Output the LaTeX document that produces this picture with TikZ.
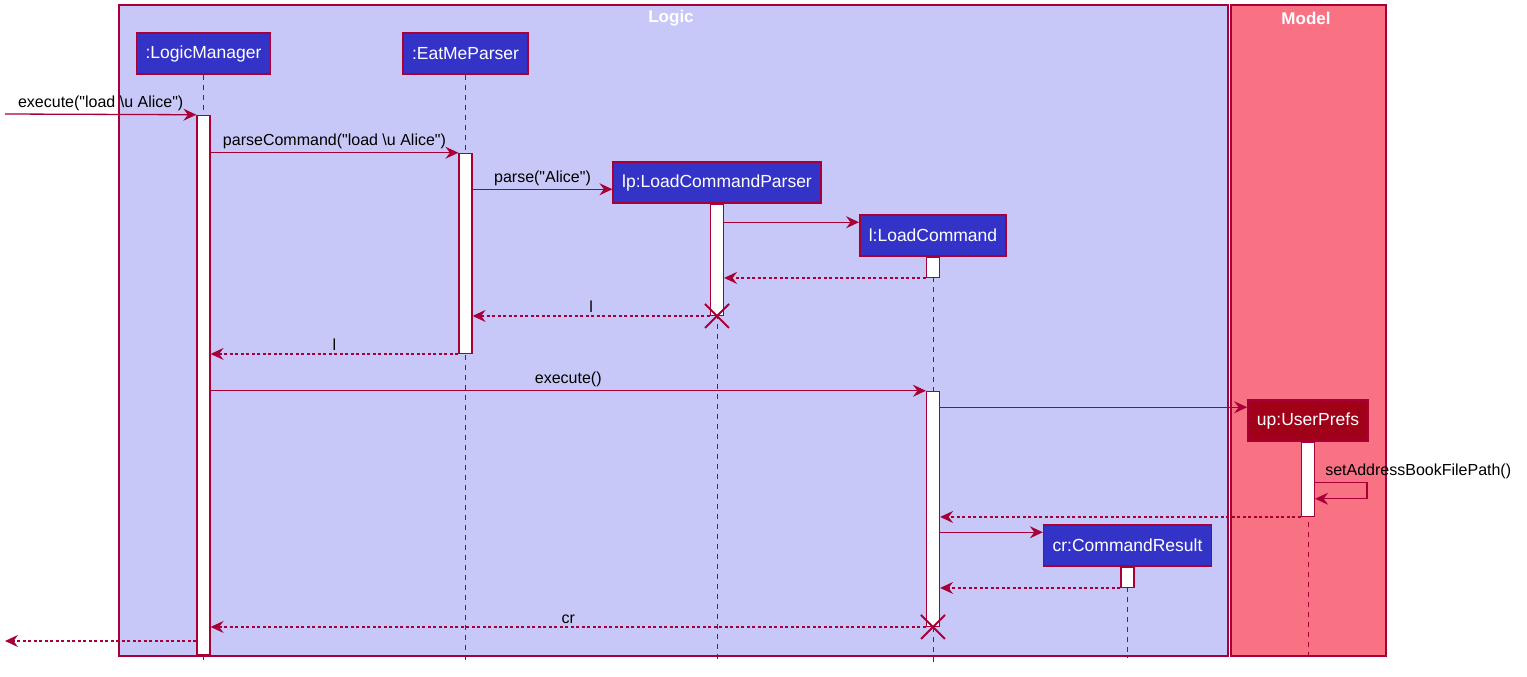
\documentclass[tikz,border=0pt]{standalone}
\usepackage{fontspec}
\setmainfont{Liberation Sans}[Ligatures=TeXOff]
\usetikzlibrary{arrows.meta, shapes.misc}

\definecolor{umlred}{RGB}{168,0,54}
\definecolor{logicbg}{RGB}{200,200,248}
\definecolor{modelbg}{RGB}{248,114,132}
\definecolor{partblue}{RGB}{51,51,200}
\definecolor{partred}{RGB}{160,0,24}

\tikzset{
  frame/.style = {draw=umlred, line width=1.2pt},
  title/.style = {text=white, font=\bfseries\fontsize{17}{19}\selectfont},
  part/.style = {draw=umlred, line width=1.5pt, fill=partblue, text=white,
                 font=\fontsize{17.5}{20}\selectfont, minimum height=41pt, inner xsep=9pt},
  life/.style = {draw=umlred, line width=1pt, dash pattern=on 5pt off 5pt},
  act/.style = {draw=umlred, fill=white, line width=1.2pt, minimum width=13pt,
                inner sep=0pt, anchor=north},
  msg/.style = {draw=umlred, line width=1.3pt, -{Stealth[length=13pt,width=12pt,inset=4.5pt]}},
  ret/.style = {msg, dash pattern=on 3pt off 2.5pt},
  lbl/.style = {font=\fontsize{16}{18}\selectfont, text=black, inner sep=3pt},
  kill/.style = {cross out, draw=umlred, line width=2pt, minimum size=22pt, inner sep=0pt},
}

\begin{document}
\begin{tikzpicture}[x=1pt, y=-1pt]
\useasboundingbox (0,0) rectangle (1527,677);

% packages
\draw[frame, fill=logicbg] (119,5) rectangle (1228,656);
\draw[frame, fill=modelbg] (1231,5) rectangle (1386,656);
\node[title] (logicT) at (671,18) {Logic};
\node[title] (modelT) at (1306,18) {Model};

% participants
\node[part] (lm) at (203.5,53.5) {:LogicManager};
\node[part] (ep) at (465.5,53.5) {:EatMeParser};
\node[part] (lp) at (717,182.5) {lp:LoadCommandParser};
\node[part] (lc) at (933,235.5) {l:LoadCommand};
\node[part, fill=partred] (up) at (1308,420.5) {up:UserPrefs};
\node[part] (cr) at (1127.5,545.5) {cr:CommandResult};

\coordinate (lifeEnd) at (0,663);
\coordinate (modelEnd) at (0,657);
\coordinate (inL) at (5,114);
\coordinate (outL) at (5,641);

% lifelines
\draw[life] (lm) -- (lm |- lifeEnd);
\draw[life] (ep) -- (ep |- lifeEnd);
\draw[life] (lp) -- (lp |- lifeEnd);
\draw[life] (lc) -- (lc |- lifeEnd);
\draw[life] (up) -- (up |- modelEnd);
\draw[life] (cr) -- (cr |- modelEnd);

% activations
\node[act, minimum height=539pt] (lmA) at ([yshift=-40pt]lm.south) {};
\node[act, minimum height=200pt] (epA) at ([yshift=-78pt]ep.south) {};
\node[act, minimum height=111pt] (lpA) at (lp.south) {};
\node[act, minimum height=20pt] (lcA) at (lc.south) {};
\node[act, minimum height=235pt] (lcB) at ([yshift=-134pt]lc.south) {};
\node[act, minimum height=74pt] (upA) at (up.south) {};
\node[act, minimum height=20pt] (crA) at (cr.south) {};

\coordinate (lpIn) at ([yshift=-28pt]lp.north west);
\coordinate (lcIn) at ([yshift=-8pt]lc.north west);
\coordinate (upIn) at ([yshift=-8pt]up.north west);
\coordinate (crIn) at ([yshift=-8pt]cr.north west);
\coordinate (selfT) at ([yshift=-41pt]upA.north east);
\coordinate (selfB) at ([yshift=-57pt]upA.north east);

% messages
\draw[msg] (inL) -- node[lbl, above] {execute("load \textbackslash u Alice")} (lmA.north west);
\draw[msg] (lmA.east |- epA.north) -- node[lbl, above] {parseCommand("load \textbackslash u Alice")} (epA.north west);
\draw[msg] (epA.east |- lpIn) -- node[lbl, above] {parse("Alice")} (lpIn);
\draw[msg] (lpA.east |- lcIn) -- (lcIn);
\draw[ret] (lcA.south west) -- (lpA.east |- lcA.south);
\draw[ret] (lpA.south west) -- node[lbl, above] {l} (epA.east |- lpA.south);
\draw[ret] (epA.south west) -- node[lbl, above] {l} (lmA.east |- epA.south);
\draw[msg] (lmA.east |- lcB.north) -- node[lbl, above] {execute()} (lcB.north west);
\draw[msg] (lcB.east |- upIn) -- (upIn);
\draw[msg] (selfT) -- ++(52,0) |- (selfB);
\node[lbl, anchor=south west, inner sep=0pt] (selfL) at ([xshift=10pt, yshift=4pt]selfT) {setAddressBookFilePath()};
\draw[ret] (upA.south west) -- (lcB.east |- upA.south);
\draw[msg] (lcB.east |- crIn) -- (crIn);
\draw[ret] (crA.south west) -- (lcB.east |- crA.south);
\draw[ret] (lcB.south west) -- node[lbl, above] {cr} (lmA.east |- lcB.south);
\draw[ret] (lmA.west |- outL) -- (outL);

% destroyed
\node[kill] (lpX) at (lpA.south) {};
\node[kill] (lcX) at (lcB.south) {};
\end{tikzpicture}
\end{document}
